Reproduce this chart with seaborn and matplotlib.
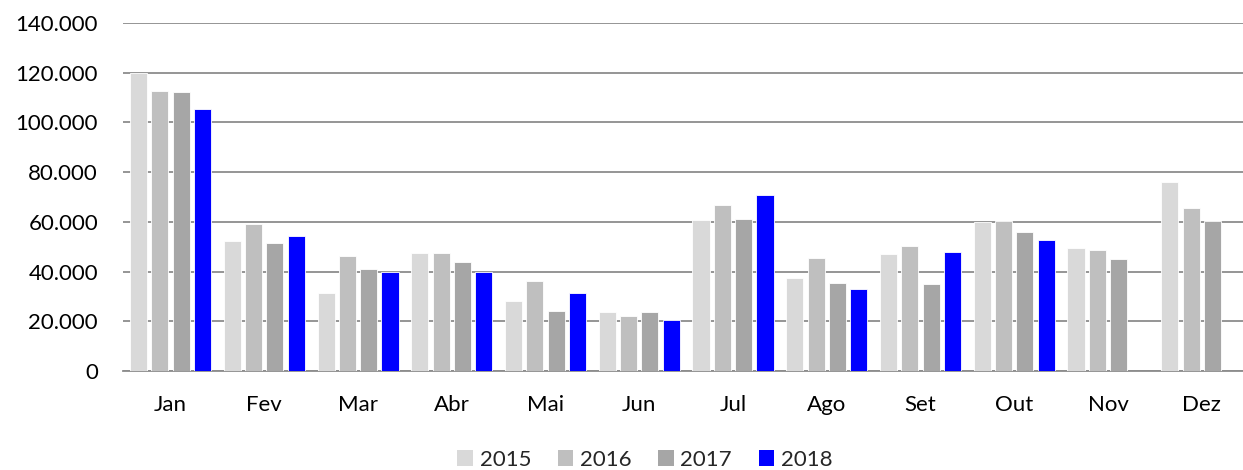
import matplotlib
matplotlib.use("Agg")
import matplotlib.pyplot as plt
from matplotlib.ticker import FuncFormatter
from matplotlib.patches import Patch
import seaborn as sns
import pandas as pd
import numpy as np

# values
months = ["Jan", "Fev", "Mar", "Abr", "Mai", "Jun", "Jul", "Ago", "Set", "Out", "Nov", "Dez"]
v2015 = [120000, 52100, 31200, 47600, 28000, 23800, 60600, 37600, 47000, 59800, 49400, 76200]
v2016 = [112700, 59000, 46400, 47600, 36200, 22100, 66900, 45500, 50300, 60400, 48700, 65400]
v2017 = [112300, 51400, 41000, 44000, 24100, 23800, 61000, 35500, 35000, 56100, 45000, 60300]
v2018 = [105500, 54200, 39800, 39800, 31400, 20500, 70700, 33000, 47900, 52900, np.nan, np.nan]
years = ["2015", "2016", "2017", "2018"]
colors = ["#D9D9D9", "#BFBFBF", "#A6A6A6", "#0000FF"]

rows = []
for year, vals in zip(years, [v2015, v2016, v2017, v2018]):
    for m, v in zip(months, vals):
        rows.append({"mes": m, "ano": year, "valor": v})
df = pd.DataFrame(rows)

sns.set_style("white")
plt.rcParams["font.family"] = ["Lato", "DejaVu Sans"]

fig = plt.figure(figsize=(12.43, 4.70), dpi=100)
ax = fig.add_axes([123 / 1243, 1 - 371 / 470, 1 - 123 / 1243, (371 - 23) / 470])

sns.barplot(data=df, x="mes", y="valor", hue="ano", order=months, hue_order=years,
            palette=colors, saturation=1, width=0.91, gap=0.2, ax=ax, legend=False,
            edgecolor="white", linewidth=0.6, zorder=3)

ax.set_ylim(0, 140000)
ax.set_yticks(np.arange(0, 140001, 20000))
ax.yaxis.set_major_formatter(FuncFormatter(lambda v, p: f"{int(v):,}".replace(",", ".")))
ax.set_xlim(-0.507, 11.44)
ax.grid(axis="y", color="#8C8C8C", linewidth=1.3, zorder=0)
ax.set_axisbelow(True)
for s in ["top", "right", "left"]:
    ax.spines[s].set_visible(False)
ax.spines["bottom"].set_color("#8C8C8C")
ax.spines["bottom"].set_linewidth(1.3)
ax.tick_params(axis="both", length=0, labelsize=16, colors="black")
ax.tick_params(axis="x", pad=17)
ax.tick_params(axis="y", pad=18)
ax.set_xlabel("")
ax.set_ylabel("")

handles = [Patch(facecolor=c, edgecolor="none", label=y) for y, c in zip(years, colors)]
fig.legend(handles=handles, loc="center", bbox_to_anchor=(645 / 1243, 1 - 460 / 470),
           ncol=4, frameon=False, fontsize=16, handlelength=0.7, handleheight=0.7,
           handletextpad=0.3, columnspacing=1.2)

fig.savefig("out.png", dpi=100)
